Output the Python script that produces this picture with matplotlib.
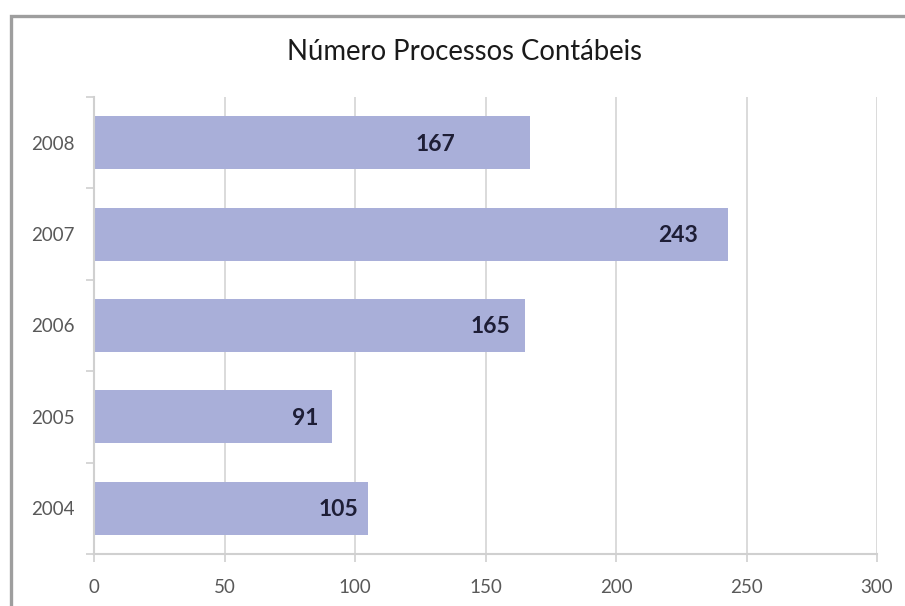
import matplotlib
matplotlib.use("Agg")
import matplotlib.pyplot as plt
from matplotlib.patches import Rectangle

# Data
years = ["2004", "2005", "2006", "2007", "2008"]
values = [105, 91, 165, 243, 167]
x_ticks = [0, 50, 100, 150, 200, 250, 300]
title = "Número Processos Contábeis"

# Style
label_inset_px = [10, 13, 14, 30, 75]
bar_color = "#A9AFD9"
font = "Lato"

W, H, DPI = 905, 606, 100
fig = plt.figure(figsize=(W / DPI, H / DPI), dpi=DPI)
fig.patch.set_facecolor("white")

# frame (cut off at right and bottom as in reference)
frame = Rectangle((11 / W, -0.05), 1.1, 1 - 16 / H + 0.05, transform=fig.transFigure,
                  fill=False, edgecolor="#9E9E9E", linewidth=2.4, zorder=0)
fig.patches.append(frame)

left, right = 94 / W, 877 / W
bottom, top = 1 - 554 / H, 1 - 97 / H
ax = fig.add_axes([left, bottom, right - left, top - bottom])

ypos = list(range(len(years)))
bars = ax.barh(ypos, values, height=0.58, color=bar_color, zorder=2)

ax.set_xlim(0, 300)
ax.set_ylim(-0.5, len(years) - 0.5)
ax.set_xticks(x_ticks)
ax.set_xticklabels([str(t) for t in x_ticks], fontsize=13.5, color="#595959", family=font)
ax.set_yticks(ypos)
ax.set_yticklabels(years, fontsize=13.5, color="#595959", family=font)
ax.set_yticks([i - 0.5 for i in range(len(years) + 1)], minor=True)

ax.tick_params(axis="y", which="major", length=0, pad=14)
ax.tick_params(axis="y", which="minor", length=6, color="#CFCFCF", width=1.2)
ax.tick_params(axis="x", which="major", length=6, color="#CFCFCF", width=1.2, pad=12)

ax.grid(axis="x", color="#D4D4D4", linewidth=1.2, zorder=1)
ax.set_axisbelow(True)
for s in ["top", "right"]:
    ax.spines[s].set_visible(False)
for s in ["left", "bottom"]:
    ax.spines[s].set_color("#D0D0D0")
    ax.spines[s].set_linewidth(1.5)

for b, v, inset in zip(bars, values, label_inset_px):
    ax.annotate(str(v), xy=(b.get_width(), b.get_y() + b.get_height() / 2),
                xytext=(-inset * 0.72, -1), textcoords="offset points",
                ha="right", va="center", fontsize=16.5, fontweight="bold",
                color="#1E1E36", family=font, zorder=3)

fig.text(464 / W, 1 - 52 / H, title, ha="center", va="center",
         fontsize=19.8, color="#1A1A1A", family=font)

fig.savefig("out.png", dpi=DPI)
